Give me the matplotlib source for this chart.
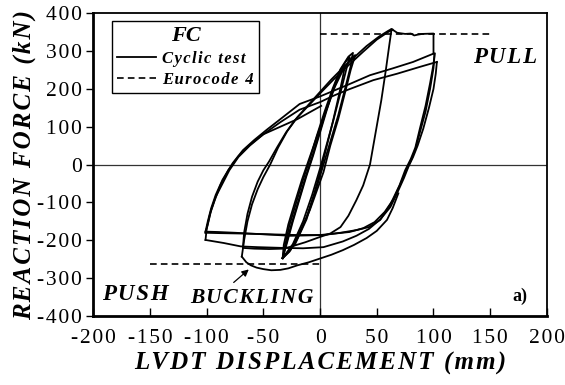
import matplotlib.pyplot as plt

# Hysteresis branches (displacement mm, force kN), one list pair per traced branch
# small elastic cycles
small1_x = [-33, -29, -24, -18, -12, -6, 0, 6, 12, 18, 22, 20, 16, 11, 6, 1, -5, -12, -20, -27, -33]
small1_y = [-247, -205, -150, -90, -30, 25, 85, 145, 200, 245, 262, 230, 175, 110, 50, -10, -75, -140, -195, -230, -247]
small2_x = [-33, -30, -25, -19, -13, -7, -1, 5, 11, 18, 24, 26, 23, 18, 12, 6, 0, -7, -15, -24, -33]
small2_y = [-247, -210, -155, -95, -35, 20, 80, 140, 195, 250, 278, 284, 250, 190, 120, 55, -10, -80, -150, -210, -247]
small3_x = [-33, -31, -27, -21, -15, -9, -3, 4, 11, 18, 25, 29, 27, 22, 16, 9, 3, -4, -12, -22, -33]
small3_y = [-247, -215, -160, -100, -40, 15, 75, 140, 200, 252, 285, 295, 260, 200, 130, 60, 0, -70, -145, -210, -247]
small4_x = [-33, -32, -28, -22, -16, -10, -3, 5, 13, 21, 28, 31, 27, 22, 16, 9, 3, -3, -9, -15, -20, -26, -33]
small4_y = [-247, -212, -158, -98, -40, 12, 72, 140, 205, 255, 283, 289, 250, 190, 120, 50, -20, -70, -120, -160, -191, -225, -247]

# first push to -70 mm with buckling, then pull past the peak onto the plateau
dip_x = [69, 64, 59, 50, 41, 30, 20, 10, 3, -10, -20, -28, -35, -43, -50, -56, -61, -65, -69]
dip_y = [-76, -115, -146, -175, -194, -212, -226, -238, -245, -258, -266, -274, -278, -279, -276, -272, -266, -258, -243]
pull1_x = [-69, -67, -64, -60, -55, -50, -44, -37, -29, -20, -12, 0, 10, 20, 30, 41, 52, 60, 63, 68, 75, 80, 83, 86, 90, 100, 100]
pull1_y = [-243, -200, -150, -105, -65, -33, 0, 45, 88, 125, 152, 192, 225, 255, 283, 313, 338, 353, 358, 348, 345, 346, 341, 343, 345, 346, 293]

# return from the 65 mm peak
ret65_x = [63, 61, 58, 54, 49, 44, 38, 32, 25, 18, 9, 0, -13, -26, -33, -45, -58, -68]
ret65_y = [357, 315, 250, 170, 85, 0, -55, -94, -135, -165, -182, -191, -205, -217, -222, -223, -222, -220]
pull2_x = [-68, -67, -64, -60, -55, -50, -45, -38, -30, -22, -12, 0, 12, 25, 38, 50, 60, 64]
pull2_y = [-220, -180, -130, -85, -45, -15, 8, 45, 85, 118, 150, 188, 225, 262, 298, 330, 350, 356]

# large 100 mm cycles
ret1_x = [101, 100, 97, 93, 88, 84, 80, 75, 70, 62, 53, 43, 32, 18, 3, -26, -50, -75, -90, -101]
ret1_y = [293, 265, 215, 155, 95, 45, 15, -15, -55, -105, -146, -165, -173, -180, -186, -188, -184, -180, -178, -177]
pull3_x = [-101, -99, -96, -92, -86, -77, -68, -58, -47, -35, -18, 0, 12, 24, 44, 64, 82, 100]
pull3_y = [-177, -150, -115, -80, -40, 4, 38, 65, 92, 120, 160, 180, 195, 210, 236, 254, 271, 293]
ret2_x = [101, 100, 97, 93, 88, 84, 80, 76, 71, 65, 57, 48, 38, 26, 10, 0, -20, -45, -70, -88, -101]
ret2_y = [293, 255, 200, 140, 85, 40, 10, -15, -50, -90, -125, -152, -168, -178, -183, -186, -186, -184, -182, -181, -180]
pull4_x = [-101, -99, -96, -92, -86, -80, -72, -62, -50, -35, -18, 0, 12, 24, 47, 68, 88, 103]
pull4_y = [-180, -158, -120, -85, -50, -15, 20, 50, 80, 112, 145, 165, 182, 197, 223, 240, 258, 271]
ret3_x = [103, 102, 100, 96, 91, 86, 82, 78, 74, 68, 62, 53, 43, 32, 20, 3, -15, -33, -55, -70, -85, -101]
ret3_y = [271, 240, 200, 150, 95, 50, 20, -5, -35, -75, -112, -145, -170, -188, -203, -218, -221, -220, -218, -216, -207, -199]
pull5_x = [-101, -100, -97, -93, -88, -81, -72, -62, -50, -35, -20, -8, 1]
pull5_y = [-199, -170, -130, -95, -55, -15, 22, 52, 80, 100, 120, 140, 155]

branches = [
    (small1_x, small1_y), (small2_x, small2_y), (small3_x, small3_y), (small4_x, small4_y),
    (dip_x, dip_y), (pull1_x, pull1_y), (ret65_x, ret65_y), (pull2_x, pull2_y),
    (ret1_x, ret1_y), (pull3_x, pull3_y), (ret2_x, ret2_y), (pull4_x, pull4_y),
    (ret3_x, ret3_y), (pull5_x, pull5_y),
]

# Eurocode 4 design resistances
ec4_pull_x = [0, 150]
ec4_pull_y = [345, 345]
ec4_push_x = [-150, 0]
ec4_push_y = [-262, -262]

xticks = [-200, -150, -100, -50, 0, 50, 100, 150, 200]
yticks = [-400, -300, -200, -100, 0, 100, 200, 300, 400]

serif = ['Liberation Serif', 'DejaVu Serif']
plt.rcParams['font.family'] = serif
plt.rcParams['axes.unicode_minus'] = False


def spaced(s, gap='\u200a'):
    # widen letter spacing a little
    return gap.join(s)


fig = plt.figure(figsize=(5.65, 3.85), dpi=100)
ax = fig.add_axes([0.165, 0.179, 0.803, 0.787])

ax.axhline(0, color='#333333', lw=0.9, zorder=1)
ax.axvline(0, color='#333333', lw=0.9, zorder=1)

for i, (bx, by) in enumerate(branches):
    ax.plot(bx, by, color='black', lw=1.3, solid_joinstyle='round',
            label=spaced('Cyclic test') if i == 0 else None, zorder=3)

ax.plot(ec4_pull_x, ec4_pull_y, color='black', lw=1.2, ls=(0, (4, 2.5)),
        label=spaced('Eurocode 4'), zorder=2)
ax.plot(ec4_push_x, ec4_push_y, color='black', lw=1.2, ls=(0, (4, 2.5)), zorder=2)

ax.set_xlim(-200, 200)
ax.set_ylim(-400, 400)
ax.set_xticks(xticks)
ax.set_yticks(yticks)
ax.set_xticklabels([spaced(str(v)) for v in xticks])
ax.set_yticklabels([spaced(str(v)) for v in yticks])
ax.tick_params(axis='x', direction='in', length=6, width=1, labelsize=15.5, pad=9)
ax.tick_params(axis='y', direction='out', length=5, width=1, labelsize=15.5, pad=3)

for side in ['top', 'right']:
    ax.spines[side].set_linewidth(1.3)
for side in ['left', 'bottom']:
    ax.spines[side].set_linewidth(2)

lab = dict(fontsize=18, fontweight='bold', fontstyle='italic')
ax.set_xlabel(spaced('LVDT DISPLACEMENT (mm)'), labelpad=3, **lab)
ax.set_ylabel(spaced('REACTION FORCE (kN)'), labelpad=1, **lab)

note = dict(fontsize=16.5, fontweight='bold', fontstyle='italic')
ax.text(163, 284, spaced('PULL'), ha='center', va='center', **note)
ax.text(-163, -342, spaced('PUSH'), ha='center', va='center', **note)
ax.text(-60, -352, spaced('BUCKLING'), ha='center', va='center',
        fontsize=15.5, fontweight='bold', fontstyle='italic')
ax.annotate('', xy=(-61, -272), xytext=(-78, -316),
            arrowprops=dict(arrowstyle='-|>', color='black', lw=0.9, mutation_scale=10))
ax.text(176, -347, 'a)', ha='center', va='center', fontsize=13, fontweight='bold')

leg = ax.legend(loc='upper left', bbox_to_anchor=(0.042, 0.975), borderaxespad=0, title='FC',
                prop=dict(family=serif, size=12, weight='bold', style='italic'),
                handlelength=2.3, handletextpad=0.4, borderpad=0.3, labelspacing=0.3,
                fancybox=False, edgecolor='black', framealpha=1)
leg.get_title().set_fontsize(16)
leg.get_title().set_fontweight('bold')
leg.get_title().set_fontstyle('italic')
leg.get_frame().set_linewidth(1)

fig.savefig('out.png', dpi=100)
